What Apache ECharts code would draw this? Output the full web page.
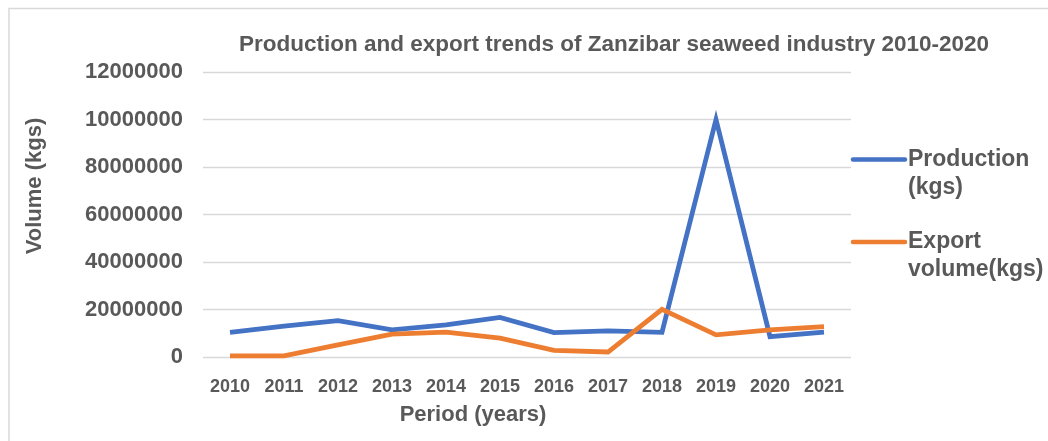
<!DOCTYPE html>
<html>
<head>
<meta charset="utf-8">
<script src="https://cdn.jsdelivr.net/npm/echarts@6/dist/echarts.min.js"></script>
<style>
html,body{margin:0;padding:0;background:#fff;}
#c{width:1048px;height:441px;}
</style>
</head>
<body>
<div id="c"></div>
<script>
var years = ['2010','2011','2012','2013','2014','2015','2016','2017','2018','2019','2020','2021'];
var production = [10400000, 13000000, 15300000, 11400000, 13500000, 16700000, 10300000, 11000000, 10400000, 100000000, 8600000, 10500000];
var exportVolume = [500000, 500000, 5100000, 9600000, 10500000, 7900000, 2800000, 2100000, 20100000, 9300000, 11400000, 12800000];
var yTickLabels = ['0','20000000','40000000','60000000','80000000','10000000','12000000'];
var seriesNames = ['Production (kgs)', 'Export volume(kgs)'];
var legendLines = [['Production','(kgs)'], ['Export','volume(kgs)']];
var titleText = 'Production and export trends of Zanzibar seaweed industry 2010-2020';
var yAxisTitle = 'Volume (kgs)';
var xAxisTitle = 'Period (years)';

var colors = ['#4472C4', '#ED7D31'];
var textColor = '#595959';
var font = 'Liberation Sans, Arial, sans-serif';

var chart = echarts.init(document.getElementById('c'), null, {renderer:'canvas'});

var legendGraphics = [];
var legendY = [159.5, 242];
for (var i = 0; i < 2; i++) {
  legendGraphics.push({
    type:'line', shape:{x1:853, y1:legendY[i], x2:905, y2:legendY[i]},
    style:{stroke:colors[i], lineWidth:4.5, lineCap:'round'}, silent:true
  });
  legendGraphics.push({
    type:'text', left:908, top:legendY[i]-14,
    style:{text:legendLines[i].join('\n'), fill:textColor, font:'bold 23px ' + font, lineHeight:28}
  });
}

var option = {
  backgroundColor:'#fff',
  animation:false,
  color: colors,
  title: {
    text: titleText, left: 609, top: 28, textAlign:'center',
    textStyle: {color:textColor, fontSize:22.5, fontWeight:'bold', fontFamily:font}
  },
  grid: {left:203, right:197, top:72, bottom:84, containLabel:false},
  xAxis: {
    type:'category', data: years, boundaryGap:true,
    axisLine:{show:false}, axisTick:{show:false},
    axisLabel:{color:textColor, fontSize:18, fontWeight:'bold', fontFamily:font, margin:21},
    splitLine:{show:false}
  },
  yAxis: {
    type:'value', min:0, max:120000000, interval:20000000,
    axisLine:{show:false}, axisTick:{show:false},
    axisLabel:{
      color:textColor, fontSize:22, fontWeight:'bold', fontFamily:font, margin:20,
      formatter:function(v){ return yTickLabels[Math.round(v/20000000)]; }
    },
    splitLine:{lineStyle:{color:'#d9d9d9', width:1.3}}
  },
  series: [
    {name:seriesNames[0], type:'line', data:production, symbol:'none', lineStyle:{width:4.8, color:colors[0], join:'miter'}},
    {name:seriesNames[1], type:'line', data:exportVolume, symbol:'none', lineStyle:{width:4.8, color:colors[1], join:'miter'}}
  ],
  graphic: [
    {type:'rect', shape:{x:9, y:8.5, width:1100, height:500}, style:{fill:'none', stroke:'#d9d9d9', lineWidth:1.5}, silent:true, z:-1},
    {type:'text', x:35, y:186, rotation:Math.PI/2, style:{text:yAxisTitle, fill:textColor, font:'bold 22px ' + font, align:'center', verticalAlign:'middle'}},
    {type:'text', x:473, y:415, style:{text:xAxisTitle, fill:textColor, font:'bold 22px ' + font, align:'center', verticalAlign:'middle'}}
  ].concat(legendGraphics)
};
chart.setOption(option);
</script>
</body>
</html>
